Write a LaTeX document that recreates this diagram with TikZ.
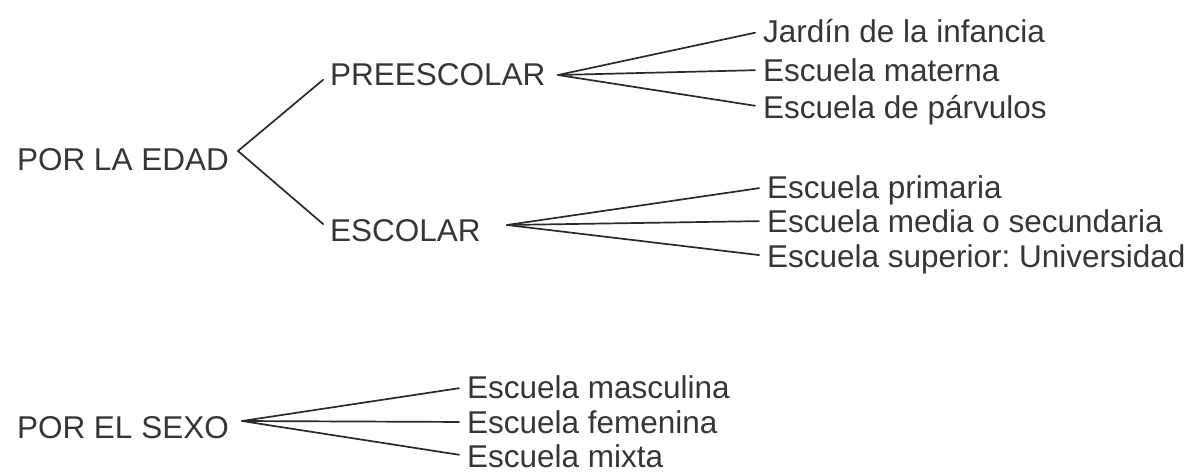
\documentclass[tikz,border=0pt]{standalone}
\usepackage{fontspec}
\setmainfont{Liberation Sans}
\usetikzlibrary{positioning}
\definecolor{ink}{HTML}{363636}
\definecolor{stroke}{HTML}{2A2A2A}
\frenchspacing

\begin{document}
\begin{tikzpicture}[x=1pt,y=-1pt,
                    every node/.style={text=ink,font=\fontsize{31.5}{33}\selectfont,
                      inner sep=0pt,outer sep=0pt,text height=22.5pt,text depth=0pt},
                    item node/.style={anchor=west},
                    branch/.style={draw=stroke,line width=1.7pt,line cap=round}]
  \useasboundingbox (0,0) rectangle (1203,472);
  % por la edad
  \node[item node] (edad) at (17,159) {POR LA EDAD};
  \node[item node] (pre) at (330,74) {PREESCOLAR};
  \node[item node] (esc) at (330,230) {ESCOLAR};
  \node[item node] (jardin) at (763,31) {Jardín de la infancia};
  \node[item node] (materna) at (763,70) {Escuela materna};
  \node[item node] (parvulos) at (763,107) {Escuela de párvulos};
  \node[item node] (primaria) at (767,187) {Escuela primaria};
  \node[item node] (media) at (767,221) {Escuela media o secundaria};
  \node[item node] (superior) at (767,256) {Escuela superior: Universidad};
  % por el sexo
  \node[item node] (sexo) at (17,427) {POR EL SEXO};
  \node[item node] (masc) at (467,387) {Escuela masculina};
  \node[item node] (fem) at (467,422) {Escuela femenina};
  \node[item node] (mixta) at (467,456) {Escuela mixta};

  \coordinate (edadfork) at (238,151);
  \coordinate (prefork) at (558,75);
  \coordinate (escfork) at (507,225);
  \coordinate (sexofork) at (242,421);

  \path[branch,shorten >=9pt]
    (edadfork) edge (pre.west)
               edge (esc.west);
  \path[branch,shorten >=8pt]
    (prefork) edge (jardin.west)
              edge (materna.west)
              edge (parvulos.west)
    (escfork) edge (primaria.west)
              edge (media.west)
              edge (superior.west)
    (sexofork) edge (masc.west)
               edge (fem.west)
               edge (mixta.west);
\end{tikzpicture}
\end{document}
